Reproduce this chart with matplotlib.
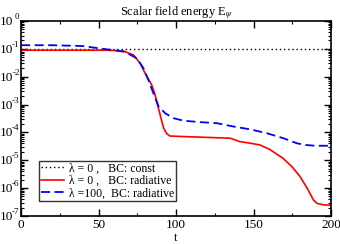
import numpy as np
import matplotlib
matplotlib.use("Agg")
import matplotlib.pyplot as plt
from matplotlib.ticker import LogLocator, MultipleLocator, NullFormatter
from matplotlib.transforms import blended_transform_factory, offset_copy

plt.rcParams['font.family'] = ['Liberation Serif', 'DejaVu Serif']
plt.rcParams['mathtext.fontset'] = 'stix'

# data: t and -log10(E)
t_const = [0, 200]
e_const = [0.1, 0.1]

t_red = [0, 55, 60, 66, 72.5, 76.8, 80, 84.3, 86.5, 88.6, 90.8, 92, 94, 96, 100, 105,
         120, 135, 141, 147, 154, 160, 169, 175, 180, 185, 188.6, 191, 195, 200]
d_red = [1.05, 1.05, 1.06, 1.08, 1.22, 1.52, 1.88, 2.30, 2.66, 3.13, 3.61, 3.85, 4.05,
         4.13, 4.14, 4.15, 4.18, 4.21, 4.33, 4.38, 4.45, 4.60, 4.93, 5.25, 5.59, 6.05,
         6.43, 6.55, 6.60, 6.62]

t_blue = [0, 20, 40, 50, 60, 66, 70, 74.6, 79, 82.1, 85.4, 88.6, 92.9, 98.3, 104.7, 115,
          126.3, 137, 147.7, 158.5, 169.2, 177.8, 183, 190, 200]
d_blue = [0.87, 0.87, 0.90, 0.98, 1.05, 1.10, 1.20, 1.34, 1.70, 2.12, 2.60, 3.06, 3.31,
          3.49, 3.58, 3.63, 3.67, 3.79, 3.89, 4.03, 4.21, 4.39, 4.45, 4.48, 4.48]

y_exponents = [-7, -6, -5, -4, -3, -2, -1, 0]

labels = ["\u03bb = 0 ,   BC: const", "\u03bb = 0 ,   BC: radiative", "\u03bb =100,  BC: radiative"]

fig = plt.figure(figsize=(3.4, 2.44), dpi=100)
ax = fig.add_axes([0.062, 0.115, 0.912, 0.799])

ax.plot(t_const, e_const, color='black', linestyle=(0, (1, 2)), lw=1.0, label=labels[0])
ax.plot(t_red, 10.0 ** (-np.array(d_red)), color='red', lw=1.2, label=labels[1])
ax.plot(t_blue, 10.0 ** (-np.array(d_blue)), color='blue', lw=1.3, linestyle=(0, (5, 2.5)), label=labels[2])

ax.set_yscale('log')
ax.set_xlim(0, 200)
ax.set_ylim(1e-7, 1)
ax.xaxis.set_major_locator(MultipleLocator(50))
ax.xaxis.set_minor_locator(MultipleLocator(25))
ax.yaxis.set_major_locator(LogLocator(base=10, numticks=20))
ax.yaxis.set_minor_locator(LogLocator(base=10, subs=np.arange(2, 10), numticks=20))
ax.yaxis.set_minor_formatter(NullFormatter())
ax.yaxis.set_major_formatter(NullFormatter())
ax.tick_params(which='both', direction='in', top=True, right=True, labelsize=9.5, pad=2)
ax.tick_params(which='major', length=5, width=1)
ax.tick_params(which='minor', length=2.5, width=0.8)
for s in ax.spines.values():
    s.set_linewidth(1.2)

# y tick labels: "10" with small exponent
tr = blended_transform_factory(ax.transAxes, ax.transData)
tr_base = offset_copy(tr, fig=fig, x=-7.5, y=-1, units='dots')
tr_exp = offset_copy(tr, fig=fig, x=-1.5, y=0, units='dots')
for k in y_exponents:
    ax.text(0, 10.0 ** k, "10", transform=tr_base, ha='right', va='center', fontsize=9.5)
    ax.text(0, 10.0 ** k, ("-%d" % -k) if k < 0 else "0", transform=tr_exp,
            ha='right', va='bottom', fontsize=6.5)

ax.set_title("Scalar field energy E$_\\psi$", fontsize=9, pad=4)
ax.set_xlabel("t", fontsize=9, labelpad=1)

leg = ax.legend(loc='lower left', bbox_to_anchor=(0.058, 0.075), fontsize=8.5, frameon=True,
                fancybox=False, edgecolor='black', handlelength=2.0, handletextpad=0.4,
                borderpad=0.15, labelspacing=0.05, borderaxespad=0)
leg.get_frame().set_linewidth(1.0)

fig.savefig("out.png", dpi=100)
